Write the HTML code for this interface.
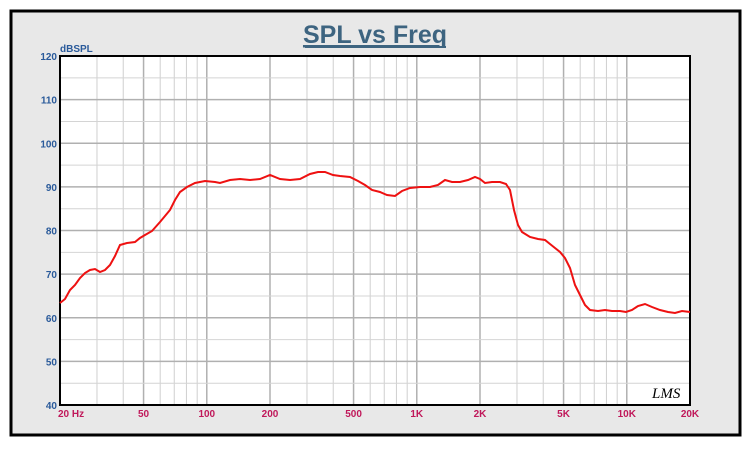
<!DOCTYPE html>
<html><head><meta charset="utf-8"><style>
html,body{margin:0;padding:0;background:#fff;}
</style></head><body>
<svg width="750" height="445" xmlns="http://www.w3.org/2000/svg" font-family="Liberation Sans, sans-serif">
<rect x="11" y="11" width="729" height="424" fill="#e8e8e8" stroke="#000" stroke-width="3"/>
<text x="375" y="43" text-anchor="middle" font-size="25" font-weight="bold" fill="#3d6480" text-decoration="underline">SPL vs Freq</text>
<line x1="305" y1="47" x2="446" y2="47" stroke="#3d6480" stroke-width="2"/>
<rect x="60" y="56" width="630" height="349" fill="#fff"/>
<g id="grid"></g>
<rect x="60" y="56" width="630" height="349" fill="none" stroke="#000" stroke-width="2"/>
<text x="60" y="52" font-size="10" font-weight="bold" fill="#2a5a9a">dBSPL</text>
<g font-size="10" font-weight="bold" fill="#2a5a9a" text-anchor="end" id="ylab"></g>
<g font-size="10" font-weight="bold" fill="#c0185a" text-anchor="middle" id="xlab"></g>
<text x="652" y="398" font-size="15" font-style="italic" fill="#000" font-family="Liberation Serif, serif">LMS</text>
<polyline fill="none" stroke="#ee1111" stroke-width="2" points="60,303 65,299 70,290 75,285 80,278 85,273 90,270 95,269 100,272 105,270 110,265 115,256 120,245 127,243 135,242 140,238 145,235 152,231 160,222 165,216 170,210 175,200 180,192 187,187 195,183 205,181 215,182 220,183 230,180 240,179 250,180 260,179 270,175 280,179 290,180 300,179 310,174 318,172 325,172 333,175 340,176 350,177 358,181 365,185 372,190 380,192 387,195 395,196 402,191 410,188 420,187 430,187 438,185 445,180 452,182 460,182 468,180 475,177 480,179 485,183 492,182 500,182 506,184 510,190 514,210 518,225 522,232 530,237 538,239 545,240 550,244 555,248 560,252 565,258 570,268 575,285 580,295 585,305 590,310 598,311 605,310 612,311 620,311 626,312 632,310 638,306 645,304 652,307 660,310 668,312 675,313 682,311 690,312"/>
<script>
(function(){
var ns="http://www.w3.org/2000/svg",g=document.getElementById('grid');
function L(x1,y1,x2,y2,c,w){var l=document.createElementNS(ns,'line');l.setAttribute('x1',x1);l.setAttribute('y1',y1);l.setAttribute('x2',x2);l.setAttribute('y2',y2);l.setAttribute('stroke',c);l.setAttribute('stroke-width',w);g.appendChild(l);}
function X(f){return 60+210*Math.log10(f/20);}
var dec=[10,100,1000,10000];
dec.forEach(function(d){for(var m=1;m<10;m++){var f=d*m;if(f<=20||f>=20000)continue;var maj=(m==1||m==2||m==5);L(X(f),56,X(f),405,maj?'#b0b0b0':'#cfcfcf',maj?1.5:1);}});
for(var v=45;v<120;v+=5){var y=405-(v-40)*349/80;L(60,y,690,y,v%10==0?'#b0b0b0':'#d4d4d4',v%10==0?1.5:1);}
var yl=document.getElementById('ylab');
for(var v=40;v<=120;v+=10){var t=document.createElementNS(ns,'text');t.setAttribute('x',57);t.setAttribute('y',405-(v-40)*349/80+4);t.textContent=v;yl.appendChild(t);}
var xl=document.getElementById('xlab');
[[20,'20  Hz'],[50,'50'],[100,'100'],[200,'200'],[500,'500'],[1000,'1K'],[2000,'2K'],[5000,'5K'],[10000,'10K'],[20000,'20K']].forEach(function(p){var t=document.createElementNS(ns,'text');var x=X(p[0]);if(p[0]==20){t.setAttribute('text-anchor','start');x=58;}t.setAttribute('x',x);t.setAttribute('y',417);t.textContent=p[1];xl.appendChild(t);});
})();
</script>
</svg>
</body></html>
